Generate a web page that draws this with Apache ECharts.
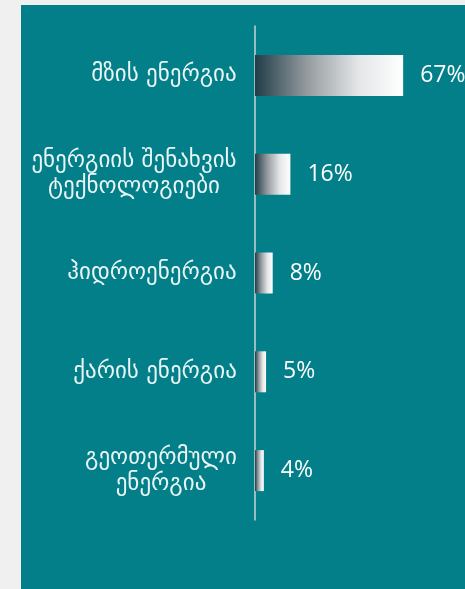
<!DOCTYPE html>
<html>
<head>
<meta charset="utf-8">
<script src="https://cdn.jsdelivr.net/npm/echarts@6/dist/echarts.min.js"></script>
<style>
  html, body { margin: 0; padding: 0; background: #f0f0f0; }
  #chart { width: 465px; height: 589px; }
</style>
</head>
<body>
<div id="chart"></div>
<script>
// Renewable energy shares
const categories = [
  'მზის ენერგია',
  'ენერგიის შენახვის\nტექნოლოგიები',
  'ჰიდროენერგია',
  'ქარის ენერგია',
  'გეოთერმული\nენერგია'
];
const shares = [67, 16, 8, 5, 4];

const labelSize = 23;
const labelFamily = 'DejaVu Sans';

// Measure the widest line of each label so multi-line labels can be centred
// inside a right-aligned block.
const ctx = document.createElement('canvas').getContext('2d');
ctx.font = labelSize + 'px "' + labelFamily + '"';
const rich = {};
categories.forEach((c, i) => {
  const w = Math.max(...c.split('\n').map(l => ctx.measureText(l).width));
  rich['c' + i] = {
    width: Math.ceil(w),
    align: 'center',
    color: '#eaf6f6',
    fontSize: labelSize,
    fontFamily: labelFamily,
    lineHeight: 26
  };
});

const chart = echarts.init(document.getElementById('chart'), null, { renderer: 'canvas' });
chart.setOption({
  backgroundColor: 'transparent',
  animation: false,
  graphic: [{
    type: 'rect',
    z: -10,
    shape: { x: 21, y: 5, width: 444, height: 584 },
    style: { fill: '#037f89' }
  }],
  grid: { left: 255, right: 11, top: 26, bottom: 69 },
  xAxis: {
    type: 'value',
    min: 0,
    max: 90,
    show: false
  },
  yAxis: {
    type: 'category',
    inverse: true,
    data: categories,
    axisLine: { show: true, lineStyle: { color: '#c9d3d4', width: 1.5 } },
    axisTick: { show: false },
    axisLabel: {
      margin: 18,
      align: 'right',
      formatter: (v, i) => v.split('\n').map(l => `{c${i}|${l}}`).join('\n'),
      rich: rich
    }
  },
  series: [{
    type: 'bar',
    data: shares,
    barWidth: 41,
    itemStyle: {
      color: new echarts.graphic.LinearGradient(0, 0, 1, 0, [
        { offset: 0, color: '#203d48' },
        { offset: 0.35, color: '#949b9f' },
        { offset: 0.7, color: '#e4e6e8' },
        { offset: 1, color: '#ffffff' }
      ])
    },
    label: {
      show: true,
      position: 'right',
      distance: 17,
      formatter: p => p.value + '%',
      color: '#ffffff',
      fontSize: 23,
      fontFamily: 'Open Sans'
    }
  }]
});
</script>
</body>
</html>
